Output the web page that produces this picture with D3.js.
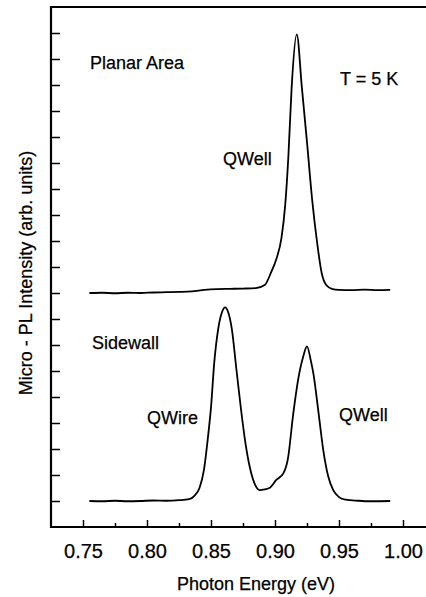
<!DOCTYPE html>
<html>
<head>
<meta charset="utf-8">
<script src="https://cdn.jsdelivr.net/npm/d3@7"></script>
<style>
  body { margin: 0; background: #fff; }
  text { font-family: "Liberation Sans", Arial, sans-serif; fill: #000; stroke: #000; stroke-width: 0.25px; }
</style>
</head>
<body>
<div id="chart"></div>
<script>
// photon energy (eV) and PL intensity (arb. units)
var planarEnergy = [0.755, 0.765, 0.775, 0.785, 0.795, 0.805, 0.815, 0.825, 0.835, 0.845, 0.855, 0.865, 0.875, 0.885,
    0.892, 0.897, 0.901, 0.905, 0.908, 0.9105, 0.913, 0.917, 0.921, 0.925, 0.929, 0.933, 0.9365, 0.940, 0.945,
    0.950, 0.960, 0.970, 0.980, 0.990];
var planarIntensity = [9.00, 9.01, 8.99, 9.01, 9.00, 9.02, 9.03, 9.04, 9.06, 9.12, 9.15, 9.16, 9.17, 9.19,
    9.31, 9.80, 10.3, 11.1, 12.4, 14.3, 16.9, 18.95, 16.9, 14.8, 12.6, 10.9, 9.76, 9.31, 9.15,
    9.12, 9.11, 9.13, 9.11, 9.12];

var sideEnergy = [0.755, 0.765, 0.775, 0.785, 0.795, 0.805, 0.815, 0.825, 0.833, 0.837, 0.841, 0.8445, 0.8475, 0.850,
    0.8525, 0.8557, 0.8585, 0.861, 0.8635, 0.8662, 0.870, 0.8735, 0.877, 0.8805, 0.8845, 0.888, 0.892, 0.896,
    0.901, 0.9065, 0.910, 0.9143, 0.918, 0.922, 0.925, 0.928, 0.930, 0.934, 0.9377, 0.9416, 0.9455, 0.950,
    0.955, 0.965, 0.975, 0.990];
var sideIntensity = [1.00, 0.99, 1.01, 0.99, 1.00, 1.02, 1.01, 1.03, 1.07, 1.2, 1.5, 2.2, 3.4, 4.6,
    6.3, 7.64, 8.25, 8.45, 8.25, 7.64, 6.0, 4.5, 3.2, 2.26, 1.62, 1.42, 1.45, 1.51,
    1.81, 2.06, 2.6, 4.37, 5.65, 6.55, 6.95, 6.4, 5.9, 4.4, 2.96, 1.94, 1.42, 1.15,
    1.05, 1.01, 0.99, 1.00];

var xMajorTicks = [0.75, 0.80, 0.85, 0.90, 0.95, 1.00];
var xMinorTicks = [0.775, 0.825, 0.875, 0.925, 0.975];
var yTicks = [1, 2, 3, 4, 5, 6, 7, 8, 9, 10, 11, 12, 13, 14, 15, 16, 17, 18, 19];

var labels = [
    { text: "Planar Area", x: 90, y: 69 },
    { text: "T = 5 K", x: 340, y: 85 },
    { text: "QWell", x: 223, y: 165 },
    { text: "Sidewall", x: 92, y: 349 },
    { text: "QWire", x: 147, y: 424 },
    { text: "QWell", x: 339, y: 421 }
];

var svgWidth = 426;
var svgHeight = 597;

var svg = d3.select("#chart").append("svg")
    .attr("width", svgWidth)
    .attr("height", svgHeight);

// plot box runs off the right edge of the picture
var scaleX = d3.scaleLinear().domain([0.725, 1.03]).range([51, 441.4]);
var scaleY = d3.scaleLinear().domain([0, 20]).range([527, 7]);

function toPoints(xs, ys) {
    return xs.map(function (e, i) { return [e, ys[i]]; });
}

var line = d3.line()
    .x(function (d) { return scaleX(d[0]); })
    .y(function (d) { return scaleY(d[1]); })
    .curve(d3.curveMonotoneX);

svg.append("path")
    .datum(toPoints(planarEnergy, planarIntensity))
    .attr("d", line)
    .attr("fill", "none")
    .attr("stroke", "#000")
    .attr("stroke-width", 1.8);

svg.append("path")
    .datum(toPoints(sideEnergy, sideIntensity))
    .attr("d", line)
    .attr("fill", "none")
    .attr("stroke", "#000")
    .attr("stroke-width", 1.8);

// bottom axis, ticks pointing inward
var xAxis = d3.axisBottom(scaleX)
    .tickValues(xMajorTicks)
    .tickSize(-7)
    .tickPadding(17)
    .tickFormat(d3.format(".2f"));
var gx = svg.append("g").attr("transform", "translate(0, 527)").call(xAxis);
gx.select(".domain").remove();
gx.selectAll(".tick line").attr("stroke", "#000").attr("stroke-width", 1.5);
gx.selectAll(".tick text")
    .style("font-size", "20px")
    .attr("font-family", null);

var xMinor = d3.axisBottom(scaleX).tickValues(xMinorTicks).tickSize(-4).tickFormat("");
var gxm = svg.append("g").attr("transform", "translate(0, 527)").call(xMinor);
gxm.select(".domain").remove();
gxm.selectAll(".tick line").attr("stroke", "#000").attr("stroke-width", 1.5);

// left axis, unlabelled ticks pointing inward
var yAxis = d3.axisLeft(scaleY).tickValues(yTicks).tickSize(-9).tickFormat("");
var gy = svg.append("g").attr("transform", "translate(51, 0)").call(yAxis);
gy.select(".domain").remove();
gy.selectAll(".tick line").attr("stroke", "#000").attr("stroke-width", 1.5);

// frame
svg.append("path")
    .attr("d", "M" + scaleX(1.03) + "," + scaleY(20) + "H" + scaleX(0.725) + "V" + scaleY(0) + "H" + scaleX(1.03))
    .attr("fill", "none")
    .attr("stroke", "#000")
    .attr("stroke-width", 2.2);

svg.selectAll("text.note").data(labels).enter()
    .append("text")
    .attr("class", "note")
    .attr("x", function (d) { return d.x; })
    .attr("y", function (d) { return d.y; })
    .style("font-size", "18px")
    .text(function (d) { return d.text; });

svg.append("text")
    .attr("x", 256)
    .attr("y", 590)
    .attr("text-anchor", "middle")
    .style("font-size", "18px")
    .text("Photon Energy (eV)");

svg.append("text")
    .attr("transform", "translate(32, 273) rotate(-90)")
    .attr("text-anchor", "middle")
    .style("font-size", "18px")
    .text("Micro - PL Intensity (arb. units)");
</script>
</body>
</html>
